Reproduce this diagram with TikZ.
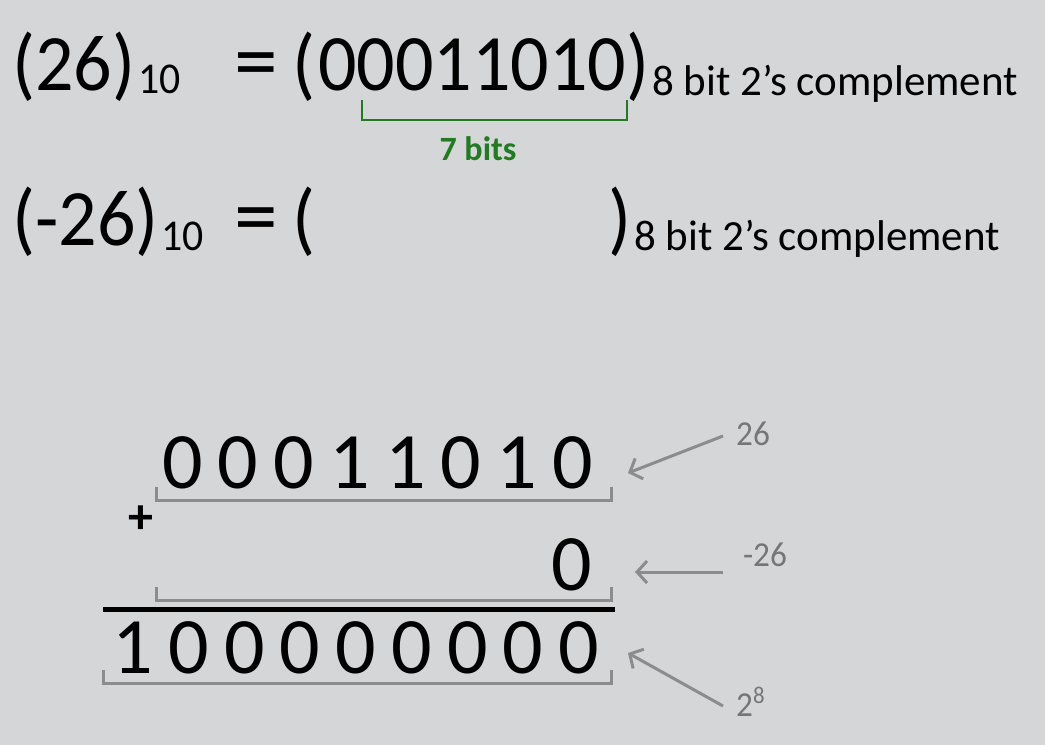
\documentclass[tikz,border=0pt]{standalone}
\usepackage{fontspec}
\setmainfont{Carlito}
\newfontfamily\nar[FakeStretch=0.95]{Carlito}
\usetikzlibrary{arrows.meta}
\definecolor{bg}{HTML}{D5D6D8}
\definecolor{grn}{RGB}{34,122,34}
\definecolor{gry}{RGB}{140,140,140}
\definecolor{lbl}{RGB}{118,118,118}
\tikzset{
 big/.style={inner sep=0pt, anchor=base west, font=\nar\fontsize{80}{96}\selectfont},
 sub/.style={inner sep=0pt, anchor=base west, font=\nar\fontsize{44}{52}\selectfont},
 captxt/.style={inner sep=0pt, anchor=base west, font=\fontsize{43}{50}\selectfont},
 dig/.style={inner sep=0pt, anchor=base, font=\fontsize{80}{96}\selectfont},
 lab/.style={inner sep=0pt, text=lbl, font=\nar\fontsize{35}{42}\selectfont},
 brk/.style={draw=gry, line width=3pt},
 arr/.style={draw=gry, line width=3pt, -{Straight Barb[length=10pt,width=22pt]}},
}
\begin{document}
\begin{tikzpicture}[x=1pt,y=-1pt]
\useasboundingbox[fill=bg] (0,0) rectangle (1045,745);
% row 1
\node[big] (p1) at (12,90) {(26)};
\node[sub] (s1) at (138,93) {10};
\node[big] (e1) at (234,90) {\scalebox{1.15}[1.1]{=}};
\node[big] (o1) at (292,90) {(};
\node[big] (b1) at (318,90) {00011010};
\node[big] (c1) at (626,90) {)};
\node[captxt] (t1) at (652,95) {8 bit 2’s complement};
\draw[draw=grn, line width=2.5pt] (362,100) -- (362,120) -- (627,120) -- (627,100);
\node[inner sep=0pt, anchor=base, text=grn, font=\bfseries\fontsize{34}{40}\selectfont] (sev) at (478,160) {7 bits};
% row 2
\node[big] (p2) at (12,245) {(-26)};
\node[sub] (s2) at (161,250) {10};
\node[big] (e2) at (234,245) {\scalebox{1.15}[1.1]{=}};
\node[big] (o2) at (292,245) {(};
\node[big] (c2) at (608,245) {)};
\node[captxt] (t2) at (634,250) {8 bit 2’s complement};
% addition
\foreach \d [count=\i from 0] in {0,0,0,1,1,0,1,0}
  \node[dig] (a\i) at (182.5+55.7*\i,488) {\d};
\node[dig] (bz) at (572,590) {0};
\foreach \d [count=\i from 0] in {1,0,0,0,0,0,0,0,0}
  \node[dig] (r\i) at (133+55.75*\i,673) {\d};
\node[inner sep=0pt, font=\bfseries\fontsize{50}{60}\selectfont] (plus) at (141,520) {+};
\draw[brk] (156,487) -- (156,500) -- (611,500) -- (611,487);
\draw[brk] (156,587) -- (156,600) -- (611,600) -- (611,587);
\draw[brk] (103,670) -- (103,683) -- (611,683) -- (611,670);
\draw[line width=5pt] (103,609) -- (615,609);
% labels and arrows
\node[lab] (l1) at (753,434) {26};
\node[lab] (l2) at (765,555) {-26};
\node[lab, anchor=base west] (l3) at (736,716) {2\raisebox{13pt}{\fontsize{24}{28}\selectfont 8}};
\coordinate (q1) at (723,436);
\coordinate (h1) at (628,473);
\coordinate (q2) at (723,572);
\coordinate (h2) at (635,572);
\coordinate (q3) at (723,706);
\coordinate (h3) at (628,653);
\draw[arr] (q1) -- (h1);
\draw[arr] (q2) -- (h2);
\draw[arr] (q3) -- (h3);
\end{tikzpicture}
\end{document}
